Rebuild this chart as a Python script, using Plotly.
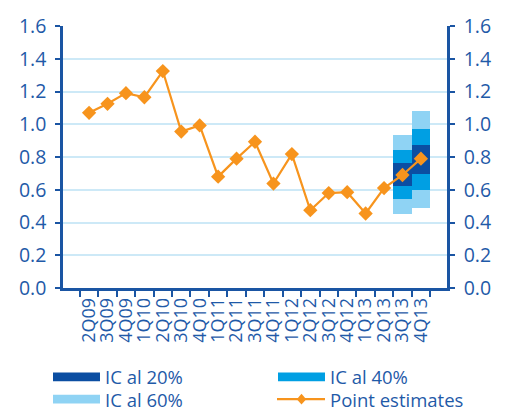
import plotly.graph_objects as go

quarters = ["2Q09", "3Q09", "4Q09", "1Q10", "2Q10", "3Q10", "4Q10", "1Q11", "2Q11",
            "3Q11", "4Q11", "1Q12", "2Q12", "3Q12", "4Q12", "1Q13", "2Q13", "3Q13", "4Q13"]
point_estimates = [1.07, 1.125, 1.19, 1.165, 1.325, 0.955, 0.993, 0.68, 0.79,
                   0.893, 0.638, 0.818, 0.475, 0.58, 0.585, 0.455, 0.61, 0.69, 0.79]

fan_quarters = ["3Q13", "4Q13"]
ic60_low = [0.45, 0.49]
ic60_high = [0.935, 1.08]
ic40_low = [0.545, 0.60]
ic40_high = [0.84, 0.97]
ic20_low = [0.62, 0.697]
ic20_high = [0.762, 0.875]

y_ticks = [0.0, 0.2, 0.4, 0.6, 0.8, 1.0, 1.2, 1.4, 1.6]

C_DARK = "#0b4ea2"
C_MID = "#009fe3"
C_LIGHT = "#8fd3f4"
C_ORANGE = "#f7941d"
C_AXIS = "#1a55a3"
C_TEXT = "#1f5aa8"
C_GRID = "#cde9f7"
FONT = "Open Sans"

W, H = 506, 414
L, R, T, B = 63, 59, 17, 126

fig = go.Figure()


def band(low, high, color, name):
    fig.add_trace(go.Bar(
        x=fan_quarters, y=[h - l for l, h in zip(low, high)], base=low,
        marker=dict(color=color, line=dict(width=0)), width=1.0,
        name=name, showlegend=False, hoverinfo="skip"))


band(ic60_low, ic60_high, C_LIGHT, "IC al 60%")
band(ic40_low, ic40_high, C_MID, "IC al 40%")
band(ic20_low, ic20_high, C_DARK, "IC al 20%")

fig.add_trace(go.Scatter(
    x=quarters, y=point_estimates, mode="lines+markers", name="Point estimates",
    line=dict(color=C_ORANGE, width=2.2),
    marker=dict(symbol="diamond", size=11, color=C_ORANGE), showlegend=False))

# invisible trace to activate the right y axis
fig.add_trace(go.Scatter(x=quarters, y=point_estimates, yaxis="y2", mode="lines",
                         line=dict(width=0), opacity=0, showlegend=False, hoverinfo="skip"))

yaxis_common = dict(
    range=[0, 1.6], tickvals=y_ticks, ticktext=[f"{v:.1f}" for v in y_ticks],
    showline=True, linecolor=C_AXIS, linewidth=2.5,
    ticks="outside", ticklen=5, tickwidth=2, tickcolor=C_AXIS,
    tickfont=dict(family=FONT, size=19.5, color=C_TEXT),
    zeroline=False, ticklabelstandoff=5,
)

fig.update_layout(
    width=W, height=H, margin=dict(l=L, r=R, t=T, b=B),
    paper_bgcolor="white", plot_bgcolor="white",
    barmode="overlay", bargap=0,
    xaxis=dict(type="category", categoryorder="array", categoryarray=quarters,
               tickmode="array", tickvals=quarters, ticktext=quarters,
               tickson="boundaries", ticks="outside", ticklen=6, tickwidth=2,
               tickcolor=C_AXIS, showline=True, linecolor=C_AXIS, linewidth=2.5,
               tickangle=-90, showgrid=False,
               tickfont=dict(family=FONT, size=18, color=C_TEXT)),
    yaxis=dict(**yaxis_common, showgrid=True, gridcolor=C_GRID, gridwidth=1.5),
    yaxis2=dict(**yaxis_common, overlaying="y", side="right", showgrid=False),
    showlegend=False,
)

# manual legend (pixel positions converted to paper coordinates)
def px(x):
    return (x - L) / (W - L - R)


def py(y):
    return (H - B - y) / (H - T - B)


LEG_FONT = 18.5
legend_items = [
    ("IC al 20%", C_DARK, 53, 100, 380),
    ("IC al 40%", C_MID, 278, 325, 380),
    ("IC al 60%", C_LIGHT, 53, 100, 403),
]
for label, color, x0, x1, yc in legend_items:
    fig.add_shape(type="rect", xref="paper", yref="paper",
                  x0=px(x0), x1=px(x1), y0=py(yc + 4.5), y1=py(yc - 4.5),
                  fillcolor=color, line=dict(width=0))
    fig.add_annotation(text=label, xref="paper", yref="paper", x=px(x1 + 3), y=py(yc),
                       xanchor="left", yanchor="middle", showarrow=False,
                       font=dict(family=FONT, size=LEG_FONT, color=C_TEXT))

fig.add_shape(type="line", xref="paper", yref="paper", x0=px(277), x1=px(325),
              y0=py(403), y1=py(403), line=dict(color=C_ORANGE, width=2.2))
d = 5.5
fig.add_shape(type="path", xref="paper", yref="paper",
              path=f"M {px(301.5)},{py(403 - d)} L {px(301.5 + d * 0.85)},{py(403)} "
                   f"L {px(301.5)},{py(403 + d)} L {px(301.5 - d * 0.85)},{py(403)} Z",
              fillcolor=C_ORANGE, line=dict(width=0))
fig.add_annotation(text="Point estimates", xref="paper", yref="paper", x=px(328), y=py(403),
                   xanchor="left", yanchor="middle", showarrow=False,
                   font=dict(family=FONT, size=LEG_FONT, color=C_TEXT))

fig.write_html("out.html")
